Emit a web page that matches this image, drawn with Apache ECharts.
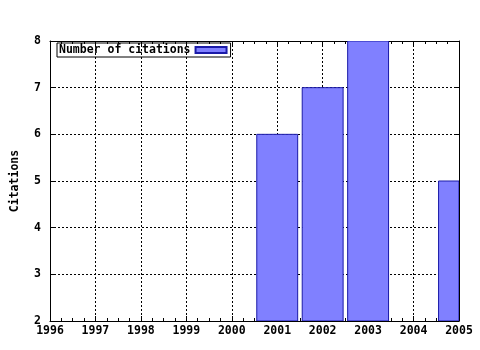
<!DOCTYPE html>
<html>
<head>
<meta charset="utf-8">
<script src="https://cdn.jsdelivr.net/npm/echarts@6/dist/echarts.min.js"></script>
<style>html,body{margin:0;padding:0;background:#fff;}#c{width:480px;height:350px;}</style>
</head>
<body>
<div id="c"></div>
<script>
var years = [2001, 2002, 2003, 2005];
var citations = [6, 7, 8, 5];
var seriesName = 'Number of citations';
var yAxisName = 'Citations';
var xMin = 1996, xMax = 2005;
var yMin = 2, yMax = 8;

var FONT = 'DejaVu Sans Mono';
var chart = echarts.init(document.getElementById('c'), null, {renderer: 'canvas'});
var data = years.map(function (y, i) { return [y, citations[i]]; });

var tickStyle = {show: true, inside: true, length: 5, lineStyle: {color: '#000', width: 1}};
var minorStyle = {show: true, splitNumber: 4, length: 3, lineStyle: {color: '#000', width: 1}};
var axisLineStyle = {show: true, onZero: false, lineStyle: {color: '#000', width: 1}};
var labelStyle = {color: '#000', fontFamily: FONT, fontWeight: 'bold', fontSize: 11.5};
var gridDash = {color: '#000', type: [2, 2], width: 1};

chart.setOption({
  animation: false,
  backgroundColor: '#fff',
  grid: {left: 50, right: 21, top: 41, bottom: 29, containLabel: false, outerBoundsMode: 'none'},
  legend: {
    show: true,
    left: 57, top: 43,
    orient: 'horizontal',
    align: 'right',
    borderColor: '#000', borderWidth: 1,
    padding: [1, 3, 1, 2],
    itemWidth: 31, itemHeight: 6,
    icon: 'rect',
    textStyle: labelStyle,
    data: [seriesName]
  },
  xAxis: [{
    type: 'value', position: 'bottom', min: xMin, max: xMax, interval: 1,
    axisLine: axisLineStyle, axisTick: tickStyle, minorTick: minorStyle,
    axisLabel: Object.assign({margin: 4, formatter: function (v) { return String(v); }}, labelStyle),
    splitLine: {show: true, lineStyle: gridDash},
    minorSplitLine: {show: false}
  }, {
    type: 'value', position: 'top', min: xMin, max: xMax, interval: 1,
    axisLine: axisLineStyle, axisTick: tickStyle, minorTick: minorStyle,
    axisLabel: {show: false}, splitLine: {show: false}
  }],
  yAxis: [{
    type: 'value', position: 'left', min: yMin, max: yMax, interval: 1,
    name: yAxisName, nameLocation: 'middle', nameGap: 29, nameRotate: 90,
    nameTextStyle: labelStyle,
    axisLine: axisLineStyle, axisTick: tickStyle,
    axisLabel: Object.assign({margin: 9}, labelStyle),
    splitLine: {show: true, lineStyle: gridDash}
  }, {
    type: 'value', position: 'right', min: yMin, max: yMax, interval: 1,
    axisLine: axisLineStyle, axisTick: tickStyle,
    axisLabel: {show: false}, splitLine: {show: false}
  }],
  series: [{
    name: seriesName,
    type: 'custom',
    xAxisIndex: 0, yAxisIndex: 0,
    clip: true,
    itemStyle: {color: '#8080ff', borderColor: '#1a1aa8', borderWidth: 1},
    encode: {x: 0, y: 1},
    data: data,
    renderItem: function (params, api) {
      var x = api.value(0), v = api.value(1);
      var p1 = api.coord([x - 0.45, v]);
      var p2 = api.coord([x + 0.45, yMin]);
      var rect = {x: p1[0], y: p1[1], width: p2[0] - p1[0], height: p2[1] - p1[1]};
      var cs = params.coordSys;
      var clipped = echarts.graphic.clipRectByRect(rect, {x: cs.x, y: cs.y, width: cs.width, height: cs.height});
      if (!clipped) return;
      return {
        type: 'rect',
        shape: clipped,
        style: {fill: '#8080ff', stroke: '#1a1aa8', lineWidth: 1}
      };
    }
  }]
});
</script>
</body>
</html>
